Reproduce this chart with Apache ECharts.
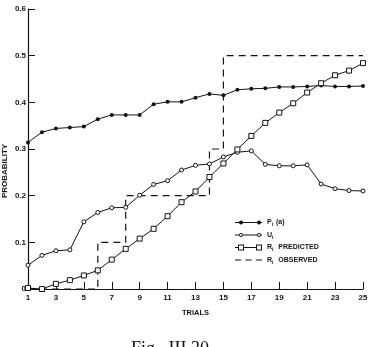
<!DOCTYPE html>
<html>
<head>
<meta charset="utf-8">
<script src="https://cdn.jsdelivr.net/npm/echarts@6/dist/echarts.min.js"></script>
<style>
  html, body { margin: 0; padding: 0; background: #fff; }
  #chart { width: 370px; height: 347px; }
</style>
</head>
<body>
<div id="chart"></div>
<script>
// trials on the x axis
const trials = ['1', '2', '3', '4', '5', '6', '7', '8', '9', '10', '11', '12', '13',
  '14', '15', '16', '17', '18', '19', '20', '21', '22', '23', '24', '25'];

// P_i (a)  (filled dots)
const pValues = [0.314, 0.336, 0.344, 0.346, 0.348, 0.364, 0.373, 0.373, 0.373, 0.396,
  0.401, 0.401, 0.410, 0.418, 0.415, 0.427, 0.429, 0.430, 0.433, 0.433, 0.434, 0.436,
  0.434, 0.434, 0.435];

// U_i  (open circles)
const uValues = [0.051, 0.072, 0.082, 0.084, 0.144, 0.164, 0.174, 0.175, 0.201, 0.224,
  0.232, 0.255, 0.265, 0.268, 0.283, 0.293, 0.296, 0.267, 0.264, 0.264, 0.266, 0.225,
  0.215, 0.211, 0.210];

// R_i predicted  (open squares)
const rPredicted = [0.002, 0.000, 0.011, 0.019, 0.029, 0.040, 0.063, 0.086, 0.108, 0.129,
  0.156, 0.186, 0.209, 0.240, 0.269, 0.299, 0.328, 0.356, 0.378, 0.398, 0.421, 0.441,
  0.458, 0.468, 0.484];

// R_i observed  (dashed step line)
const rObserved = [0, 0, 0, 0, 0, 0.1, 0.1, 0.2, 0.2, 0.2, 0.2, 0.2, 0.2, 0.3, 0.5,
  0.5, 0.5, 0.5, 0.5, 0.5, 0.5, 0.5, 0.5, 0.5, 0.5];

const legendText = {
  P: 'P{sub|i} (a)',
  U: 'U{sub|i}',
  Rpred: 'R{sub|i}  PREDICTED',
  Robs: 'R{sub|i}  OBSERVED'
};

const ink = '#141414';
const font = 'Liberation Sans';

// legend icons: a line with two marks on it
const iconP = 'path://M0 2.5H27V3.5H0Z M4 3A2 2 0 1 1 8 3A2 2 0 1 1 4 3Z M22 3A2 2 0 1 1 26 3A2 2 0 1 1 22 3Z';
const iconU = 'path://M0 2.6H4V3.4H0Z M8 2.6H22V3.4H8Z M26 2.6H27V3.4H26Z ' +
  'M4 3A2 2 0 1 1 8 3A2 2 0 1 1 4 3Z M4.9 3A1.1 1.1 0 1 0 7.1 3A1.1 1.1 0 1 0 4.9 3Z ' +
  'M22 3A2 2 0 1 1 26 3A2 2 0 1 1 22 3Z M22.9 3A1.1 1.1 0 1 0 25.1 3A1.1 1.1 0 1 0 22.9 3Z';
const iconR = 'path://M0 2.6H3V3.4H0Z M9 2.6H21V3.4H9Z ' +
  'M3 0H9V6H3Z M4 1V5H8V1Z M21 0H27V6H21Z M22 1V5H26V1Z';
const iconObs = 'path://M0 2.6H6V3.4H0Z M10 2.6H16V3.4H10Z M20 2.6H26V3.4H20Z';

const iconStyle = { color: ink, borderWidth: 0 };

const chart = echarts.init(document.getElementById('chart'), null, { renderer: 'canvas' });

chart.setOption({
  animation: false,
  backgroundColor: '#fff',
  title: {
    text: 'Fig.  III 30',
    left: 131,
    top: 340,
    padding: 0,
    textStyle: { fontFamily: 'Liberation Serif', fontWeight: 'normal', fontSize: 18, color: ink }
  },
  // y axis title, rotated
  graphic: [{
    type: 'text',
    x: 4.5,
    y: 171,
    rotation: Math.PI / 2,
    style: {
      text: 'PROBABILITY', fill: ink,
      font: 'bold 8px "Liberation Sans"',
      align: 'center', verticalAlign: 'middle'
    }
  }],
  grid: { left: 28, right: 7, top: 9, bottom: 58, outerBoundsMode: 'none' },
  legend: {
    orient: 'vertical',
    left: 235,
    top: 219,
    padding: 0,
    itemWidth: 27,
    itemHeight: 6,
    itemGap: 4,
    data: [
      { name: 'P', icon: iconP, itemStyle: iconStyle },
      { name: 'U', icon: iconU, itemStyle: iconStyle },
      { name: 'Rpred', icon: iconR, itemStyle: iconStyle },
      { name: 'Robs', icon: iconObs, itemStyle: iconStyle }
    ],
    itemStyle: { borderWidth: 0 },
    formatter: function (name) { return legendText[name]; },
    textStyle: {
      fontFamily: font, fontSize: 7, fontWeight: 'bold', color: ink,
      rich: {
        sub: { fontFamily: font, fontSize: 5, fontWeight: 'bold', color: ink, padding: [5, 1, 0, 0] }
      }
    }
  },
  xAxis: {
    type: 'category',
    data: trials,
    boundaryGap: false,
    name: 'TRIALS',
    nameLocation: 'middle',
    nameGap: 20,
    nameTextStyle: { fontFamily: font, fontSize: 7.5, fontWeight: 'bold', color: ink },
    axisLine: { lineStyle: { color: ink, width: 1.2 } },
    axisTick: { inside: true, length: 7, interval: 1, lineStyle: { color: ink, width: 1 } },
    axisLabel: { interval: 1, margin: 5, fontFamily: font, fontSize: 8, fontWeight: 'bold', color: ink },
    splitLine: { show: false }
  },
  yAxis: {
    type: 'value',
    min: 0,
    max: 0.6,
    interval: 0.1,
    axisLine: { show: true, lineStyle: { color: ink, width: 1.2 } },
    axisTick: { show: true, inside: true, length: 7, lineStyle: { color: ink, width: 1 } },
    axisLabel: {
      margin: 2, fontFamily: font, fontSize: 8, fontWeight: 'bold', color: ink,
      formatter: function (v) { return v === 0 ? '0' : v.toFixed(1); }
    },
    splitLine: { show: false }
  },
  series: [
    {
      name: 'P', type: 'line', data: pValues,
      symbol: 'circle', symbolSize: 4,
      lineStyle: { color: ink, width: 1 },
      itemStyle: { color: ink, borderColor: ink, borderWidth: 0 }
    },
    {
      name: 'U', type: 'line', data: uValues,
      symbol: 'circle', symbolSize: 4,
      lineStyle: { color: ink, width: 1 },
      itemStyle: { color: '#fff', borderColor: ink, borderWidth: 1 }
    },
    {
      name: 'Rpred', type: 'line', data: rPredicted,
      symbol: 'rect', symbolSize: 5,
      lineStyle: { color: ink, width: 1 },
      itemStyle: { color: '#fff', borderColor: ink, borderWidth: 1 }
    },
    {
      name: 'Robs', type: 'line', data: rObserved,
      step: 'end', showSymbol: false, symbol: 'none',
      lineStyle: { color: ink, width: 1.2, type: [7, 5] },
      itemStyle: { color: ink }
    }
  ]
});
</script>
</body>
</html>
